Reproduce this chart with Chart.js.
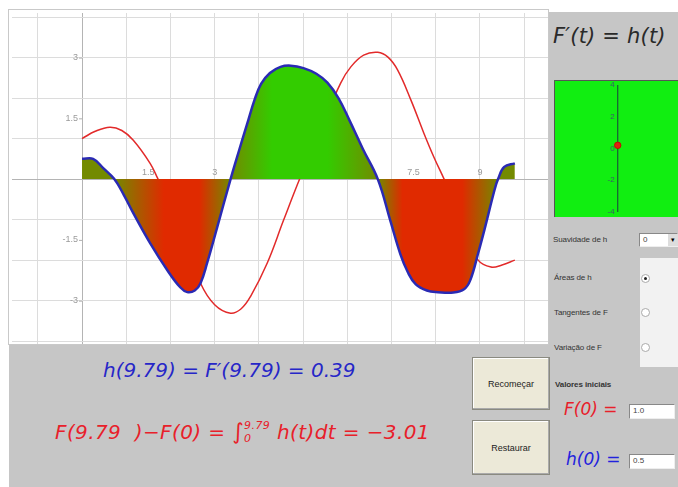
<!DOCTYPE html>
<html><head><meta charset="utf-8">
<script src="https://cdn.jsdelivr.net/npm/chart.js@4.4.1/dist/chart.umd.min.js"></script>
<style>
body{margin:0;width:678px;height:487px;background:#fff;position:relative;overflow:hidden;font-family:"Liberation Sans",Arial,sans-serif;}
.abs{position:absolute;}
#bottom{left:9px;top:345px;width:545px;height:142px;background:#c6c6c6;}
#right{left:549px;top:12px;width:129px;height:475px;background:#c6c6c6;}
#frame{left:8px;top:9px;width:541px;height:336px;border:1px solid #c9c9c9;background:#fff;box-sizing:border-box;}
#main{left:12px;top:13px;}
#mini{left:554px;top:80px;}
.small{font-size:8px;color:#333;letter-spacing:-0.1px;}
.btn{background:#ece9d8;border:1px solid #8a8a80;box-shadow:inset -1px -1px 0 #aaa, inset 1px 1px 0 #fff;font-size:9px;color:#222;display:flex;align-items:center;justify-content:center;}
.formula{font-family:"DejaVu Sans",sans-serif;font-style:italic;white-space:nowrap;}
.inp{background:#fff;border:1px solid #888;border-right-color:#eee;border-bottom-color:#eee;font-size:8px;color:#444;padding-left:3px;box-sizing:border-box;line-height:12px;}
.radio{width:7px;height:7px;border-radius:50%;border:1px solid #aaa;background:#fff;}
</style></head>
<body>
<div id="frame" class="abs"></div>
<div id="bottom" class="abs"></div>
<div id="right" class="abs"></div>
<canvas id="main" class="abs" width="536" height="331"></canvas>
<div class="abs formula" style="left:553px;top:24px;font-size:21px;color:#2a2a2a;letter-spacing:0.2px;">F′(t) = h(t)</div>
<canvas id="mini" class="abs" width="124" height="137"></canvas>

<div class="abs small" style="left:553px;top:235px;">Suavidade de h</div>
<div class="abs inp" style="left:639px;top:233px;width:39px;height:14px;">0</div>
<div class="abs" style="left:668px;top:234px;width:10px;height:12px;background:#ddd;font-size:7px;text-align:center;line-height:12px;">▾</div>
<div class="abs" style="left:640px;top:258px;width:38px;height:109px;background:#f2f2f2;"></div>
<div class="abs small" style="left:554px;top:273px;">Áreas de h</div>
<div class="abs radio" style="left:641px;top:274px;"><div style="width:3px;height:3px;background:#222;margin:2px;border-radius:50%"></div></div>
<div class="abs small" style="left:554px;top:308px;">Tangentes de F</div>
<div class="abs radio" style="left:641px;top:308px;"></div>
<div class="abs small" style="left:554px;top:343px;">Variação de F</div>
<div class="abs radio" style="left:641px;top:343px;"></div>
<div class="abs small" style="left:555px;top:380px;font-weight:bold;">Valores iniciais</div>
<div class="abs formula" style="left:564px;top:399px;font-size:17px;color:#e8202a;">F(0) =</div>
<div class="abs inp" style="left:629px;top:404px;width:46px;height:15px;">1.0</div>
<div class="abs formula" style="left:566px;top:449px;font-size:17px;color:#2222dd;">h(0) =</div>
<div class="abs inp" style="left:629px;top:454px;width:46px;height:15px;">0.5</div>

<div class="abs btn" style="left:472px;top:357px;width:76px;height:51px;">Recomeçar</div>
<div class="abs btn" style="left:472px;top:420px;width:76px;height:53px;">Restaurar</div>

<div class="abs formula" style="left:103px;top:358px;font-size:20px;color:#2626c8;">h(9.79) = F′(9.79) = 0.39</div>
<div class="abs formula" style="left:55px;top:419px;font-size:20px;color:#e8202a;letter-spacing:0.4px;">F(9.79&nbsp;&nbsp;)−F(0) = <span style="font-size:22px;font-style:normal">∫</span><span style="display:inline-block;vertical-align:middle;line-height:13px;font-size:11px;position:relative;top:-2px;">9.79<br>0</span>&nbsp;h(t)dt = −3.01</div>

<script>
// ---- data ----
const tH = [0, 0.25, 0.48, 0.73, 0.95, 1.16, 1.54, 1.93, 2.22, 2.38, 2.55, 2.68, 2.83, 3.06, 3.36, 3.55, 3.74, 3.9, 4.05, 4.25, 4.49, 4.72, 5.01, 5.3, 5.55, 5.8, 6.05, 6.35, 6.69, 6.98, 7.2, 7.37, 7.55, 7.8, 8.05, 8.4, 8.64, 8.78, 8.96, 9.1, 9.33, 9.41, 9.55, 9.79];
const hVals = [0.5, 0.5, 0.27, 0, -0.4, -0.84, -1.58, -2.25, -2.67, -2.79, -2.75, -2.57, -2.07, -1.18, 0, 0.7, 1.38, 1.95, 2.35, 2.62, 2.77, 2.8, 2.74, 2.6, 2.38, 2.0, 1.45, 0.75, 0, -1.05, -1.85, -2.3, -2.6, -2.75, -2.79, -2.8, -2.72, -2.5, -1.83, -1.26, -0.27, 0, 0.3, 0.39];
const tF = [0, 0.3, 0.63, 0.9, 1.16, 1.54, 1.72, 2.0, 2.3, 2.68, 3.0, 3.36, 3.6, 3.81, 4.19, 4.56, 4.94, 5.4, 5.85, 6.08, 6.37, 6.69, 6.92, 7.14, 7.44, 7.73, 7.96, 8.19, 8.5, 8.75, 8.96, 9.25, 9.5, 9.79];
const fVals = [1.0, 1.18, 1.28, 1.2, 0.96, 0.39, 0.0, -0.6, -1.45, -2.57, -3.1, -3.31, -3.2, -2.9, -2.07, -1.01, 0.05, 1.25, 2.37, 2.77, 3.06, 3.13, 3.01, 2.69, 1.95, 1.14, 0.54, 0.0, -0.75, -1.45, -2.0, -2.17, -2.12, -2.0];
const xTickLabels = [1.5, 3, 4.5, 6, 7.5, 9];
const yTickLabels = [3, 1.5, -1.5, -3];
const miniTickLabels = [4, 2, 0, -2, -4];
const miniPointX = [0];
const miniPointY = [0.2];

// ---- style ----
const OLIVE = '#738a00', RED = '#e02a00', GREEN = '#33cc00';
const fillStops = [[0, OLIVE], [0.73, OLIVE], [1.85, RED], [2.65, RED], [3.36, OLIVE], [4.3, GREEN], [5.55, GREEN], [6.69, OLIVE], [7.25, RED], [8.6, RED], [9.41, OLIVE], [10, OLIVE]];

function gradFill(ctx) {
  const chart = ctx.chart; const area = chart.chartArea;
  if (!area) return OLIVE;
  const xs = chart.scales.x;
  const g = chart.ctx.createLinearGradient(area.left, 0, area.right, 0);
  fillStops.forEach(([t, c]) => {
    const p = (xs.getPixelForValue(t) - area.left) / (area.right - area.left);
    g.addColorStop(Math.min(1, Math.max(0, p)), c);
  });
  return g;
}

const axisLabels = {
  id: 'axisLabels',
  beforeDatasetsDraw(chart) {
    const {ctx, scales: {x, y}} = chart;
    const x0 = x.getPixelForValue(0), y0 = y.getPixelForValue(0);
    ctx.save();
    ctx.font = '9px "Liberation Sans", Arial';
    ctx.fillStyle = '#9a9a9a';
    ctx.strokeStyle = '#b0b0b0';
    ctx.textAlign = 'center'; ctx.textBaseline = 'bottom';
    xTickLabels.forEach(v => {
      const px = x.getPixelForValue(v);
      ctx.fillText(String(v), px, y0 - 2);
    });
    ctx.textAlign = 'right'; ctx.textBaseline = 'middle';
    yTickLabels.forEach(v => {
      const py = y.getPixelForValue(v);
      ctx.fillText(String(v), x0 - 4, py);
      ctx.beginPath(); ctx.moveTo(x0 - 3, py + 0.5); ctx.lineTo(x0, py + 0.5); ctx.stroke();
    });
    ctx.restore();
  }
};

new Chart(document.getElementById('main'), {
  type: 'line',
  data: {
    datasets: [
      { label: 'h', data: tH.map((t, i) => ({x: t, y: hVals[i]})), borderColor: '#2a2ab4', borderWidth: 2.5,
        backgroundColor: gradFill, fill: 'origin', pointRadius: 0, tension: 0.4 },
      { label: 'F', data: tF.map((t, i) => ({x: t, y: fVals[i]})), borderColor: '#e22a2a', borderWidth: 1.5,
        fill: false, pointRadius: 0, tension: 0.4 }
    ]
  },
  options: {
    responsive: false, animation: false, maintainAspectRatio: false,
    layout: {padding: 0},
    plugins: {legend: {display: false}, tooltip: {enabled: false}},
    scales: {
      x: { type: 'linear', min: -1.584, max: 10.54,
        ticks: {display: false, stepSize: 1, includeBounds: false},
        grid: {drawTicks: false, color: c => c.tick && c.tick.value === 0 ? '#b4b4b4' : '#dcdcdc', lineWidth: 1},
        border: {display: false} },
      y: { type: 'linear', min: -4.07, max: 4.1,
        ticks: {display: false, stepSize: 1, includeBounds: false},
        grid: {drawTicks: false, color: c => c.tick && c.tick.value === 0 ? '#b4b4b4' : '#dcdcdc', lineWidth: 1},
        border: {display: false} }
    }
  },
  plugins: [axisLabels]
});

const miniDeco = {
  id: 'miniDeco',
  beforeDraw(chart) {
    const {ctx, width, height} = chart;
    ctx.save();
    ctx.fillStyle = '#11ee11'; ctx.fillRect(0, 0, width, height);
    ctx.strokeStyle = '#555'; ctx.lineWidth = 1;
    ctx.beginPath(); ctx.moveTo(0.5, height); ctx.lineTo(0.5, 0.5); ctx.lineTo(width, 0.5); ctx.stroke();
    ctx.restore();
  },
  beforeDatasetsDraw(chart) {
    const {ctx, scales: {x, y}} = chart;
    const x0 = x.getPixelForValue(0);
    ctx.save();
    ctx.strokeStyle = '#1a5a3a'; ctx.lineWidth = 1.2;
    ctx.beginPath(); ctx.moveTo(x0, y.getPixelForValue(4)); ctx.lineTo(x0, y.getPixelForValue(-4)); ctx.stroke();
    ctx.font = '8px "Liberation Sans", Arial'; ctx.fillStyle = '#3a5a6a';
    ctx.textAlign = 'right'; ctx.textBaseline = 'middle';
    miniTickLabels.forEach(v => {
      const py = y.getPixelForValue(v);
      ctx.fillText(String(v), x0 - 3, Math.min(Math.max(py, 4), chart.height - 4));
    });
    ctx.restore();
  }
};

new Chart(document.getElementById('mini'), {
  type: 'scatter',
  data: { datasets: [{ data: miniPointX.map((v, i) => ({x: v, y: miniPointY[i]})), backgroundColor: '#e02010', borderColor: '#c01000', pointRadius: 3.2 }] },
  options: {
    responsive: false, animation: false, layout: {padding: 0},
    plugins: {legend: {display: false}, tooltip: {enabled: false}},
    scales: {
      x: {min: -1.03, max: 0.97, display: false},
      y: {min: -4, max: 4, display: false}
    }
  },
  plugins: [miniDeco]
});
</script>
</body></html>
